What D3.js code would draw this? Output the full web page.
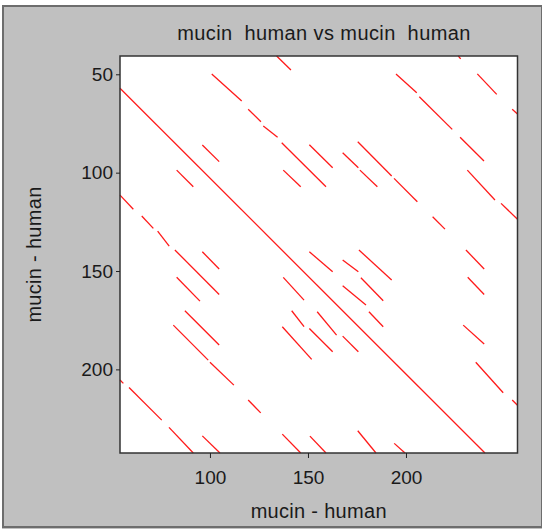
<!DOCTYPE html>
<html>
<head>
<meta charset="utf-8">
<script src="https://cdn.jsdelivr.net/npm/d3@7"></script>
<style>
  body { margin: 0; background: #fff; }
  text { font-family: "Liberation Sans", Arial, sans-serif; fill: #1a1a1a; }
  .axis path { display: none; }
  .axis line { stroke: #222; }
</style>
</head>
<body>
<svg id="chart"></svg>
<script>
// labels
const titleText = "mucin\u00a0 human vs mucin\u00a0 human";
const xLabelText = "mucin - human";
const yLabelText = "mucin - human";

// axes
const xTicks = [100, 150, 200];
const yTicks = [50, 100, 150, 200];
const xDomain = [54.1, 256.9];
const yDomain = [40.7, 242.5];

// dot plot matches: [x1, y1, x2, y2]
const matches = [
  [54.1, 57.1, 240.3, 242.5],   // main diagonal
  [134.0, 40.7, 141.3, 47.8],
  [100.9, 49.8, 116.2, 63.6],
  [119.5, 67.8, 126.0, 74.1],
  [127.2, 76.3, 134.5, 82.0],
  [136.6, 84.8, 159.2, 107.2],
  [96.1, 85.9, 104.7, 94.4],
  [83.0, 98.7, 91.5, 107.2],
  [137.4, 98.7, 146.3, 107.2],
  [226.7, 40.7, 227.9, 42.2],
  [194.9, 49.8, 205.5, 59.4],
  [206.8, 61.4, 223.6, 78.0],
  [227.6, 82.0, 239.8, 94.1],
  [236.4, 49.8, 246.3, 60.2],
  [254.2, 67.8, 256.9, 70.2],
  [150.7, 85.8, 162.6, 97.5],
  [167.7, 89.9, 175.7, 97.5],
  [175.4, 84.3, 192.7, 101.7],
  [176.5, 98.7, 185.4, 107.2],
  [193.9, 102.9, 205.8, 114.8],
  [231.3, 98.7, 245.4, 113.9],
  [248.5, 115.6, 256.9, 123.7],
  [54.1, 111.4, 60.9, 118.6],
  [65.2, 122.0, 71.1, 128.3],
  [73.3, 129.7, 79.2, 137.3],
  [82.1, 139.3, 104.7, 161.9],
  [96.1, 140.2, 104.7, 149.0],
  [83.0, 153.2, 94.9, 165.3],
  [87.2, 170.2, 104.7, 187.6],
  [81.3, 177.5, 99.1, 195.3],
  [100.0, 196.4, 112.2, 208.0],
  [137.4, 153.2, 148.0, 164.8],
  [141.7, 170.2, 148.0, 178.3],
  [136.9, 178.3, 151.9, 194.9],
  [150.7, 140.2, 162.6, 150.4],
  [167.7, 144.4, 175.7, 150.4],
  [176.0, 139.3, 192.7, 154.6],
  [167.7, 157.5, 179.6, 167.3],
  [177.0, 153.4, 188.4, 165.1],
  [154.7, 170.7, 164.6, 182.6],
  [181.1, 170.7, 188.4, 178.3],
  [150.7, 179.2, 162.6, 191.0],
  [167.7, 183.1, 175.7, 191.0],
  [213.6, 122.4, 219.9, 128.7],
  [230.6, 139.3, 239.9, 149.0],
  [231.5, 153.2, 239.9, 161.9],
  [229.2, 177.5, 239.9, 187.1],
  [235.6, 196.4, 249.6, 211.9],
  [254.2, 215.6, 256.9, 218.2],
  [119.5, 215.6, 125.9, 222.1],
  [54.1, 205.4, 55.8, 207.1],
  [58.7, 209.2, 75.4, 225.8],
  [79.1, 229.5, 91.5, 242.5],
  [96.1, 233.8, 105.1, 242.5],
  [136.9, 232.9, 146.3, 242.5],
  [151.0, 233.9, 159.2, 242.5],
  [175.4, 231.2, 184.7, 242.5],
  [194.0, 237.6, 199.5, 242.5]
];

const W = 542, H = 529;
const margin = { top: 56, right: 24.5, bottom: 76, left: 120 };
const width = W - margin.left - margin.right;
const height = H - margin.top - margin.bottom;

const svg = d3.select('#chart')
    .attr('width', W)
    .attr('height', H);

// window frame
svg.append('rect')
    .attr('x', 2).attr('y', 5)
    .attr('width', W - 2).attr('height', H - 5)
    .attr('fill', '#c0c0c0');
svg.append('rect')
    .attr('x', 3).attr('y', 6)
    .attr('width', W - 3).attr('height', H - 8)
    .attr('fill', 'none')
    .attr('stroke', '#6d6d6d')
    .attr('stroke-width', 2);

const chart = svg.append('g')
    .attr('transform', `translate(${margin.left},${margin.top})`);

const xScale = d3.scaleLinear().domain(xDomain).range([0, width]);
const yScale = d3.scaleLinear().domain(yDomain).range([0, height]);

chart.append('rect')
    .attr('width', width)
    .attr('height', height)
    .attr('fill', '#fff');

// match segments
chart.append('g')
    .selectAll('line')
    .data(matches)
    .join('line')
    .attr('x1', d => xScale(d[0]))
    .attr('y1', d => yScale(d[1]))
    .attr('x2', d => xScale(d[2]))
    .attr('y2', d => yScale(d[3]))
    .attr('stroke', '#ff1a1a')
    .attr('stroke-width', 1.3);

// plot border
chart.append('rect')
    .attr('width', width)
    .attr('height', height)
    .attr('fill', 'none')
    .attr('stroke', '#333')
    .attr('stroke-width', 1.5);

const xAxis = d3.axisBottom(xScale).tickValues(xTicks).tickSize(5).tickPadding(13);
const yAxis = d3.axisLeft(yScale).tickValues(yTicks).tickSize(4).tickPadding(3);

chart.append('g')
    .attr('class', 'axis x-axis')
    .attr('transform', `translate(0,${height})`)
    .call(xAxis)
    .selectAll('text')
    .attr('font-size', 19);

chart.append('g')
    .attr('class', 'axis y-axis')
    .call(yAxis)
    .selectAll('text')
    .attr('font-size', 19);

chart.selectAll('.axis text').style('fill', '#1a1a1a');

// title
svg.append('text')
    .attr('x', 324)
    .attr('y', 40)
    .attr('text-anchor', 'middle')
    .attr('font-size', 20)
    .attr('letter-spacing', 0.4)
    .style('white-space', 'pre')
    .text(titleText);

// axis labels
svg.append('text')
    .attr('x', margin.left + width / 2)
    .attr('y', 518)
    .attr('text-anchor', 'middle')
    .attr('font-size', 20)
    .attr('letter-spacing', 0.3)
    .text(xLabelText);

svg.append('text')
    .attr('transform', `translate(41,${margin.top + height / 2}) rotate(-90)`)
    .attr('text-anchor', 'middle')
    .attr('font-size', 20)
    .attr('letter-spacing', 0.3)
    .text(yLabelText);
</script>
</body>
</html>
